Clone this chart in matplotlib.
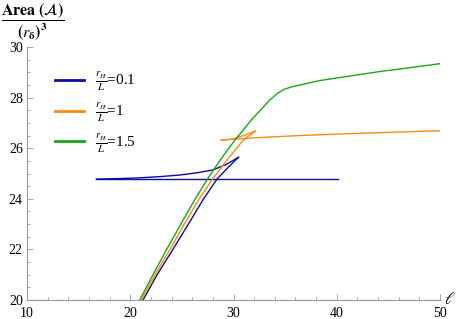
import matplotlib
matplotlib.use("Agg")
import matplotlib.pyplot as plt
from matplotlib.ticker import MultipleLocator

plt.rcParams['font.family'] = ['Liberation Serif', 'DejaVu Serif']
plt.rcParams['mathtext.fontset'] = 'stix'

# ---- data ----
labels = [r'$\frac{r_H}{L}$=0.1', r'$\frac{r_H}{L}$=1', r'$\frac{r_H}{L}$=1.5']
colors = ['#0c0ca0', '#ff8814', '#18a818']

# r_H/L = 0.1 : small branch, unstable branch, large branch
blue_small_x = [21.24, 22.6, 24.1, 25.6, 27.03, 28.4, 29.5, 30.48]
blue_small_y = [20.0, 21.0, 21.98, 22.98, 23.95, 24.78, 25.25, 25.64]
blue_mid_x = [30.48, 29.3, 28.0, 26.5, 24.8, 23.0, 21.0, 19.0, 16.73]
blue_mid_y = [25.64, 25.36, 25.14, 25.03, 24.94, 24.88, 24.83, 24.80, 24.78]
blue_large_x = [16.73, 25.0, 32.0, 40.14]
blue_large_y = [24.78, 24.78, 24.78, 24.78]

# r_H/L = 1
orange_small_x = [21.08, 22.4, 23.82, 25.2, 26.6, 28.0, 29.5, 30.9, 31.6, 32.13]
orange_small_y = [20.0, 21.0, 21.98, 22.98, 23.95, 24.8, 25.6, 26.3, 26.52, 26.68]
orange_mid_x = [32.13, 31.0, 29.9, 28.81]
orange_mid_y = [26.68, 26.50, 26.36, 26.32]
orange_large_x = [28.81, 32.0, 36.38, 43.0, 50.0]
orange_large_y = [26.32, 26.41, 26.50, 26.60, 26.69]

# r_H/L = 1.5
green_x = [20.92, 22.2, 23.5, 24.9, 26.23, 27.5, 28.8, 30.1, 31.8, 33.5, 34.3, 34.93, 35.6, 38.3, 44.0, 50.0]
green_y = [20.0, 21.0, 21.98, 23.0, 23.95, 24.8, 25.58, 26.3, 27.15, 27.9, 28.18, 28.33, 28.42, 28.67, 29.02, 29.34]

# ---- figure ----
fig = plt.figure(figsize=(4.57, 3.19), dpi=100)
ax = fig.add_axes([27/457, 19/319, (440-27)/457, (300-47)/319])

lw = 1.0
ax.plot(blue_small_x, blue_small_y, color=colors[0], lw=lw, label=labels[0])
ax.plot(blue_mid_x, blue_mid_y, color=colors[0], lw=lw)
ax.plot(blue_large_x, blue_large_y, color=colors[0], lw=lw)
ax.plot(orange_small_x, orange_small_y, color=colors[1], lw=lw, label=labels[1])
ax.plot(orange_mid_x, orange_mid_y, color=colors[1], lw=lw)
ax.plot(orange_large_x, orange_large_y, color=colors[1], lw=lw)
ax.plot(green_x, green_y, color=colors[2], lw=lw, label=labels[2])

ax.set_xlim(10, 50)
ax.set_ylim(20, 30)
ax.xaxis.set_major_locator(MultipleLocator(10))
ax.xaxis.set_minor_locator(MultipleLocator(2))
ax.yaxis.set_major_locator(MultipleLocator(2))
ax.yaxis.set_minor_locator(MultipleLocator(0.5))

for s in ['top', 'right']:
    ax.spines[s].set_visible(False)
for s in ['left', 'bottom']:
    ax.spines[s].set_color('#999999')
    ax.spines[s].set_linewidth(0.8)
ax.tick_params(which='both', direction='in', color='#999999', labelsize=10, width=0.6)
ax.tick_params(which='major', length=4)
ax.tick_params(which='minor', length=2)
ax.tick_params(axis='x', which='major', pad=5)
ax.tick_params(axis='y', which='major', pad=3)

ax.text(1.01, 0.0, r'$\ell$', transform=ax.transAxes, fontsize=12, va='center', ha='left')
fig.text(1/457, 1 - 1/319, r'$\dfrac{\mathbf{Area\ (\mathcal{A})}}{\mathbf{(\mathit{r}_{\delta})^3}}$',
         fontsize=11.5, va='top', ha='left')

leg = ax.legend(loc='upper left', bbox_to_anchor=(0.035, 0.96), frameon=False,
                handlelength=1.9, handletextpad=0.7, labelspacing=0.55, fontsize=11)
for h in leg.legend_handles:
    h.set_linewidth(2.0)

fig.savefig('out.png', dpi=100)
